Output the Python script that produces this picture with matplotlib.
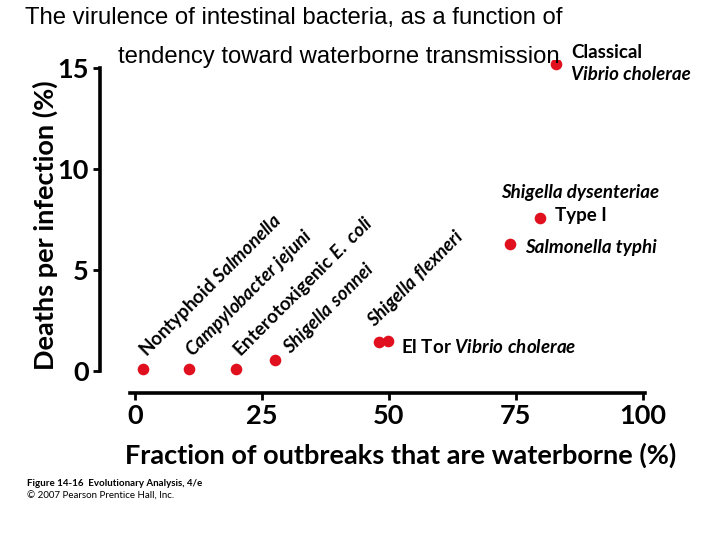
import matplotlib
matplotlib.use("Agg")
import matplotlib.pyplot as plt

plt.rcParams["mathtext.fontset"] = "custom"
plt.rcParams["mathtext.it"] = "Lato:style=italic:weight=bold"
plt.rcParams["mathtext.rm"] = "Lato:weight=bold"

# species
species = ["Nontyphoid Salmonella", "Campylobacter jejuni", "Enterotoxigenic E. coli",
           "Shigella sonnei", "Shigella flexneri", "El Tor Vibrio cholerae",
           "Salmonella typhi", "Shigella dysenteriae Type I", "Classical Vibrio cholerae"]
waterborne = [1.6, 10.6, 19.9, 27.6, 48.0, 49.8, 73.8, 79.7, 82.9]   # %
deaths = [0.1, 0.1, 0.1, 0.55, 1.45, 1.5, 6.3, 7.6, 15.2]            # %

xticks = [0, 25, 50, 75, 100]
yticks = [0, 5, 10, 15]

red = "#e0101e"
fam = ["Lato", "DejaVu Sans"]
heavy = "bold"

fig = plt.figure(figsize=(7.2, 5.4), dpi=100)
ax = fig.add_axes([100 / 720, 1 - 393 / 540, 550 / 720, 333 / 540])

ax.scatter(waterborne, deaths, s=70, color=red, zorder=3, linewidths=0)

ax.set_xlim(-6.9, 101.4)
ax.set_ylim(-1.09, 15.4)
ax.set_xticks(xticks)
ax.set_yticks(yticks)
for s in ("top", "right"):
    ax.spines[s].set_visible(False)
ax.spines["left"].set_bounds(0, 15)
ax.spines["bottom"].set_bounds(-1, 100.4)
for s in ("left", "bottom"):
    ax.spines[s].set_linewidth(2.6)
ax.tick_params(axis="both", width=2, length=5, direction="out", pad=3)
for lab in ax.get_xticklabels() + ax.get_yticklabels():
    lab.set_family(fam)
    lab.set_fontweight(heavy)
    lab.set_fontsize(19.5)

ax.set_xlabel("Fraction of outbreaks that are waterborne (%)", family=fam,
              fontweight=heavy, fontsize=19.5)
ax.set_ylabel("Deaths per infection (%)", family=fam, fontweight=heavy,
              fontsize=19.5)
ax.xaxis.label.set_va("center")
ax.yaxis.label.set_va("center")
ax.xaxis.set_label_coords(0.547, -0.186)
ax.yaxis.set_label_coords(-0.10, 0.505)

# diagonal labels for the low-virulence group (italic parts via mathtext)
diag_text = ["Nontyphoid $Salmonella$", "$Campylobacter\\ jejuni$",
             "Enterotoxigenic $E.\\ coli$", "$Shigella\\ sonnei$", "$Shigella\\ flexneri$"]
diag_off = [(3, 12), (4, 12), (4, 12), (15, 5), (-4, 14)]
for i, (txt, (dx, dy)) in enumerate(zip(diag_text, diag_off)):
    ax.annotate(txt, (waterborne[i], deaths[i]), xytext=(dx, dy),
                textcoords="offset pixels", rotation=45, rotation_mode="anchor",
                ha="left", va="baseline", family=fam, fontweight=heavy,
                fontsize=13.5)

def note(i, text, dx, dy, italic, ha="left"):
    ax.annotate(text, (waterborne[i], deaths[i]), xytext=(dx, dy),
                textcoords="offset pixels", ha=ha, va="center", family=fam,
                fontweight=heavy, fontstyle="italic" if italic else "normal",
                fontsize=13.5)

note(8, "Classical", 15, 12, False)
note(8, "Vibrio cholerae", 15, -10, True)
note(7, "Shigella dysenteriae", 40, 25, True, ha="center")
note(7, "Type I", 15, 2, False)
note(6, "Salmonella typhi", 15, -4, True)
note(5, "El Tor $Vibrio\\ cholerae$", 13, -6, False)

fig.text(25 / 720, 1 - 18 / 540, "The virulence of intestinal bacteria, as a function of",
         family="Liberation Sans", fontsize=17.2, va="center")
fig.text(118 / 720, 1 - 57 / 540, "tendency toward waterborne transmission",
         family="Liberation Sans", fontsize=17.2, va="center")

fig.text(27 / 720, 1 - 484 / 540, "Figure 14-16  Evolutionary Analysis, 4/e",
         family=fam, fontsize=7, fontweight="bold", va="center")
fig.text(27 / 720, 1 - 496 / 540, "\u00a9 2007 Pearson Prentice Hall, Inc.",
         family=fam, fontsize=7, va="center")

fig.savefig("out.png", dpi=100)
